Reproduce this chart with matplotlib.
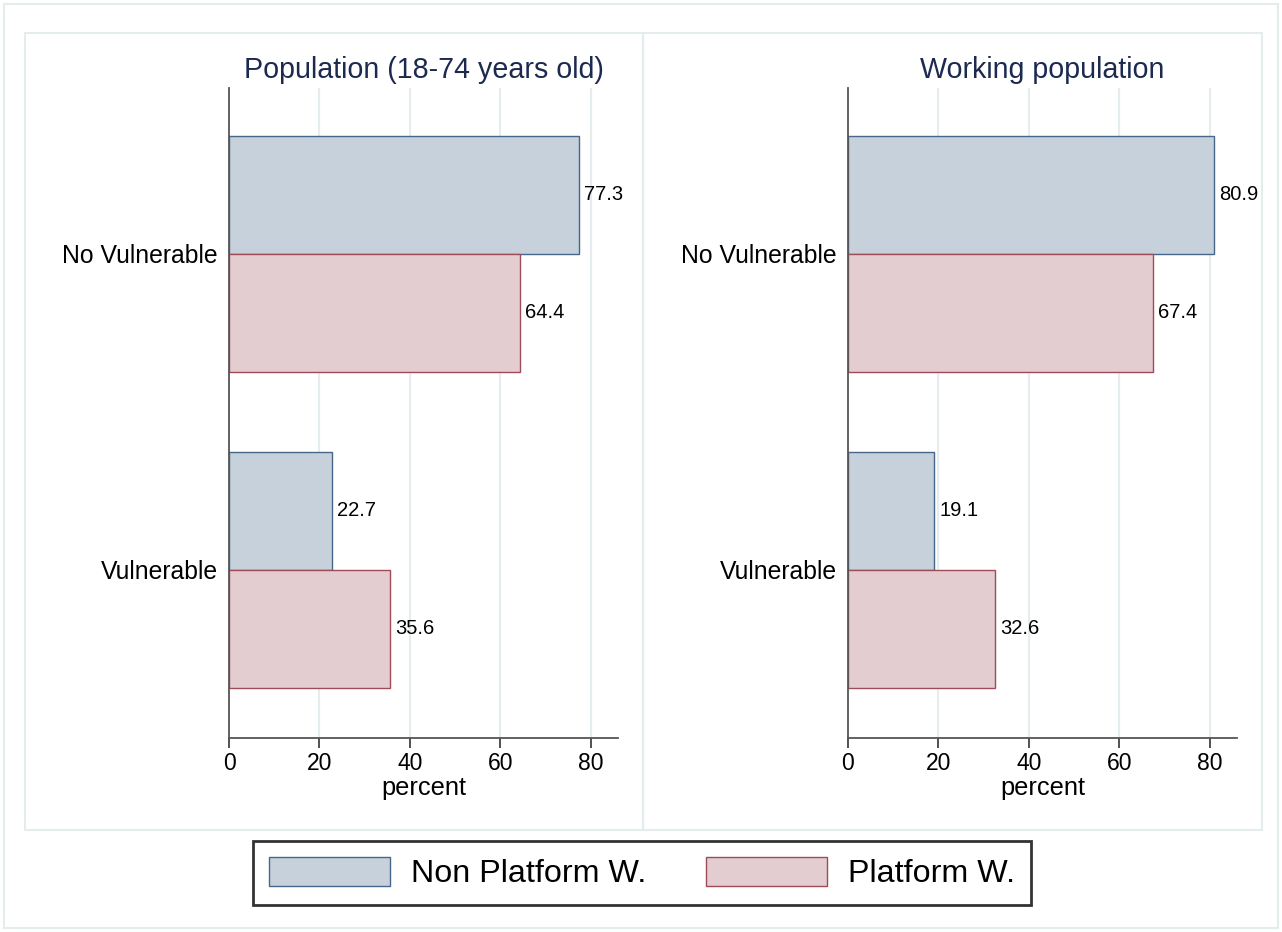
import matplotlib
matplotlib.use("Agg")
import matplotlib.pyplot as plt
from matplotlib.patches import Rectangle, Patch
import numpy as np

plt.rcParams['font.family'] = ['Liberation Sans', 'DejaVu Sans']

categories = ["No Vulnerable", "Vulnerable"]
panel_titles = ["Population (18-74 years old)", "Working population"]
series_names = ["Non Platform W.", "Platform W."]
non_platform = [[77.3, 22.7], [80.9, 19.1]]
platform = [[64.4, 35.6], [67.4, 32.6]]
xticks = [0, 20, 40, 60, 80]

W, H = 1282, 932
fig = plt.figure(figsize=(W / 100, H / 100), dpi=100)
fig.patch.set_facecolor("white")

def fx(x):
    return x / W

def fy(y):
    return 1 - y / H

panel_edge = "#e4ecee"
# outer frame
fig.add_artist(Rectangle((fx(4), fy(928)), fx(1274), 924 / H, transform=fig.transFigure,
                         facecolor="none", edgecolor=panel_edge, lw=1.5))
for (x0, x1) in [(25, 643), (643, 1262)]:
    fig.add_artist(Rectangle((fx(x0), fy(830)), (x1 - x0) / W, (830 - 33) / H, transform=fig.transFigure,
                             facecolor="none", edgecolor=panel_edge, lw=1.5))

blue_fill, blue_edge = "#c7d1dc", "#46668a"
red_fill, red_edge = "#e3cdd0", "#a04c58"
title_color = "#1c2a50"

bar_h = 0.373
axes_lefts = [229, 848]
for i in range(2):
    left = axes_lefts[i]
    ax = fig.add_axes([fx(left), fy(738), 389 / W, 650 / H])
    ypos = np.arange(len(categories))
    b1 = ax.barh(ypos - bar_h / 2, non_platform[i], height=bar_h, color=blue_fill,
                 edgecolor=blue_edge, linewidth=1.0)
    b2 = ax.barh(ypos + bar_h / 2, platform[i], height=bar_h, color=red_fill,
                 edgecolor=red_edge, linewidth=1.0)
    for bars, vals in [(b1, non_platform[i]), (b2, platform[i])]:
        for rect, v in zip(bars, vals):
            ax.annotate(f"{v:.1f}", (v, rect.get_y() + rect.get_height() / 2),
                        xytext=(3.5, 0), textcoords="offset points", va="center", ha="left",
                        fontsize=14.5, color="black")
    ax.set_xlim(0, 86)
    ax.set_ylim(1.532, -0.525)
    ax.set_yticks(ypos)
    ax.set_yticklabels(categories, fontsize=17.8)
    ax.tick_params(axis="y", length=0, pad=8)
    ax.set_xticks(xticks)
    ax.set_xticklabels([str(t) for t in xticks], fontsize=16.5)
    ax.tick_params(axis="x", length=7, width=1.2, color="#333333", pad=3)
    ax.set_xlabel("percent", fontsize=18.3, labelpad=1)
    for s in ["top", "right"]:
        ax.spines[s].set_visible(False)
    for s in ["left", "bottom"]:
        ax.spines[s].set_color("#555555")
        ax.spines[s].set_linewidth(1.3)
    for t in xticks[1:]:
        ax.axvline(t, color="#e6edf1", lw=1.6, zorder=0)
    ax.set_axisbelow(True)
    ax.set_title(panel_titles[i], fontsize=20.6, color=title_color, pad=7)
    ax.set_facecolor("none")

# legend
handles = [Patch(facecolor=blue_fill, edgecolor=blue_edge, label=series_names[0]),
           Patch(facecolor=red_fill, edgecolor=red_edge, label=series_names[1])]
leg = fig.legend(handles=handles, loc="center", bbox_to_anchor=(fx(642), fy(873)), ncol=2,
                 fontsize=23.2, frameon=True, fancybox=False, edgecolor="black",
                 handlelength=3.75, handleheight=1.0, columnspacing=1.85, handletextpad=0.65,
                 borderpad=0.5)
leg.get_frame().set_linewidth(2)

fig.savefig("out.png", dpi=100, facecolor="white")
